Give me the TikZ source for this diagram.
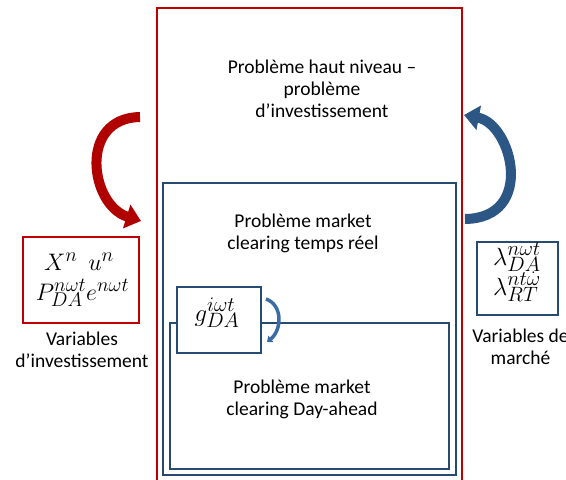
\documentclass[tikz,border=0pt]{standalone}
\usepackage{graphicx}
\usepackage{fontspec}
\setmainfont{Carlito}
\usetikzlibrary{arrows.meta}
\definecolor{darkred}{HTML}{C00000}
\definecolor{arrowred}{HTML}{B00000}
\definecolor{boxblue}{HTML}{254B72}
\definecolor{arrowblue}{HTML}{2C5683}
\definecolor{smallblue}{HTML}{3A6CA5}
\newcommand{\bigmath}[2]{\scalebox{#1}{$#2$}}
\tikzset{
  label text/.style={align=center, font=\fontsize{19.5}{22}\selectfont, inner sep=0pt},
  math text/.style={font=\fontsize{24.88}{30}\selectfont, inner sep=0pt, anchor=base},
  red arrow/.style={draw=arrowred, line width=10pt, -{Triangle[width=24pt,length=15pt]}},
  blue arrow/.style={draw=arrowblue, line width=10pt, -{Triangle[width=24pt,length=15pt]}},
}

\begin{document}
\begin{tikzpicture}[x=1pt, y=-1pt]
  \useasboundingbox (0,0) rectangle (566,480);
  \clip (0,0) rectangle (566,480);

  % probleme haut niveau
  \draw[darkred, line width=2pt] (157,8) rectangle (462,495);
  \node[label text] (haut) at (322,89)
  {Problème haut niveau –\\problème\\d’investissement};

  % market clearing temps reel / day-ahead
  \draw[boxblue, line width=2.4pt] (163,183) rectangle (456,475);
  \draw[boxblue, line width=2.4pt] (170,323) rectangle (449,469);
  \node[label text] (rt) at (303,233) {Problème market\\clearing temps réel};
  \node[label text] (da) at (302,399) {Problème market\\clearing Day-ahead};

  \node[draw=boxblue, line width=2.4pt, fill=white,
  minimum width=84, minimum height=66] (g) at (219,320) {};
  \node[math text] (gda) at (217,321) {$g^{i\omega t}_{DA}$};

  % variables
  \node[draw=darkred, line width=2pt,
  minimum width=116, minimum height=86] (varinv) at (81,280) {};
  \node[math text] (xu) at (79,270) {\bigmath{0.96}{X^n\hspace{0.45em}u^n}};
  \node[math text] (pe) at (82.5,300) {\bigmath{0.96}{P^{n\omega t}_{DA}e^{n\omega t}}};
  \node[label text] (varinvtxt) at (82,350) {Variables\\d’investissement};

  \node[draw=boxblue, line width=2.4pt,
  minimum width=81, minimum height=73] (varmar) at (517.5,278.5) {};
  \node[math text] (lda) at (517,265) {$\lambda^{n\omega t}_{DA}$};
  \node[math text] (lrt) at (517,295) {$\lambda^{nt\dot{\omega}}_{RT}$};
  \node[label text] (varmartxt) at (520.5,347) {Variables de\\marché};

  % fleches
  \coordinate (redstart) at (140,117);
  \coordinate (redend) at (141,221);
  \draw[red arrow] (redstart) .. controls (78,118) and (90,205) .. (redend);

  \coordinate (bluestart) at (465,219);
  \coordinate (blueend) at (464,115);
  \draw[blue arrow] (bluestart) .. controls (536,218) and (512,124) .. (blueend);

  \coordinate (gstart) at (266,299);
  \coordinate (gend) at (267,342);
  \draw[smallblue, line width=3.5pt, -{Triangle[width=8pt,length=5pt]}]
  (gstart) .. controls (283,305) and (282,330) .. (gend);

\end{tikzpicture}
\end{document}
